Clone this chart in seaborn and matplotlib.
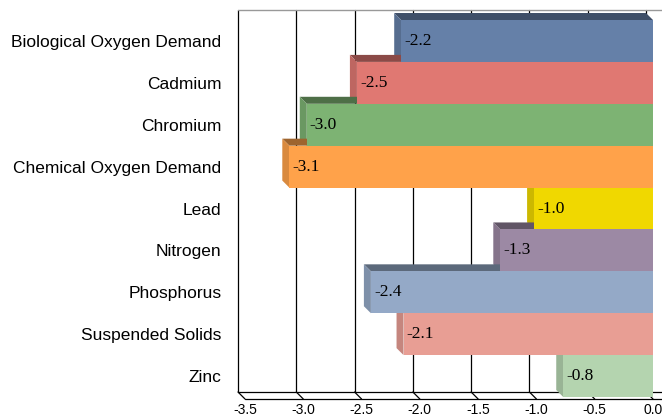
import matplotlib
matplotlib.use('Agg')
import matplotlib.pyplot as plt
import matplotlib.colors as mcolors
from matplotlib.patches import Polygon
import numpy as np
import pandas as pd
import seaborn as sns

sns.set_style('white')

# data
pollutants = ['Biological Oxygen Demand', 'Cadmium', 'Chromium', 'Chemical Oxygen Demand',
              'Lead', 'Nitrogen', 'Phosphorus', 'Suspended Solids', 'Zinc']
values = [-2.16, -2.54, -2.97, -3.12, -1.02, -1.31, -2.42, -2.14, -0.77]
bar_colors = ['#6580A8', '#E07872', '#7DB373', '#FFA24A', '#F0D800',
              '#9C89A4', '#94A9C7', '#E89E94', '#B4D4AF']
xticks = [-3.5, -3.0, -2.5, -2.0, -1.5, -1.0, -0.5, 0.0]

df = pd.DataFrame({'Pollutant': pollutants, 'Value': values})

W, H = 662, 419
fig = plt.figure(figsize=(W / 100, H / 100), dpi=100)
# front plane of the pseudo-3D box (pixels)
left_px, right_px, top_px, bot_px = 245, 653, 17, 399
ax = fig.add_axes([left_px / W, 1 - bot_px / H, (right_px - left_px) / W, (bot_px - top_px) / H])

sns.barplot(data=df, x='Value', y='Pollutant', hue='Pollutant', palette=bar_colors,
            legend=False, width=1.0, saturation=1, ax=ax, orient='h')

ymin, ymax = 8.5 + 0.048, -0.5 - 0.072
ax.set_xlim(-3.5, 0)
ax.set_ylim(ymin, ymax)

# pixel -> data offsets for depth
px_x = (right_px - left_px) / 3.5
px_y = (bot_px - top_px) / (ymin - ymax)
depth = 7
dx = -depth / px_x
dy = -depth / px_y

# depth faces of bars (top + left side)
for p, c in zip(list(ax.patches), bar_colors):
    p.set_zorder(4)
    p.set_edgecolor('none')
    rgb = np.array(mcolors.to_rgb(c))
    x0, x1 = p.get_x() + p.get_width(), p.get_x()
    yt, yb = p.get_y(), p.get_y() + p.get_height()
    top = Polygon([(x0, yt), (x1, yt), (x1 + dx, yt + dy), (x0 + dx, yt + dy)], closed=True,
                  facecolor=rgb * 0.62, edgecolor='none', zorder=3, clip_on=False)
    side = Polygon([(x0, yt), (x0, yb), (x0 + dx, yb + dy), (x0 + dx, yt + dy)], closed=True,
                   facecolor=rgb * 0.85, edgecolor='none', zorder=3, clip_on=False)
    ax.add_patch(top)
    ax.add_patch(side)

# back wall grid
for t in xticks:
    ax.plot([t + dx, t + dx], [ymin + dy, ymax + dy], color='black', lw=0.9, zorder=1, clip_on=False)
ax.plot([-3.5 + dx, 0.2], [ymax + dy, ymax + dy], color='#999999', lw=1.0, zorder=1, clip_on=False)

# floor
ax.plot([-3.5 + dx, 0.2], [ymin + dy, ymin + dy], color='black', lw=0.9, zorder=1, clip_on=False)
ax.plot([-3.5, 0.2], [ymin, ymin], color='black', lw=0.9, zorder=1, clip_on=False)
for t in xticks:
    ax.plot([t + dx, t], [ymin + dy, ymin], color='black', lw=0.9, zorder=1, clip_on=False)

# value labels
for i, v in enumerate(values):
    ax.text(v + 3 / px_x, i, f'{v:.1f}', va='center', ha='left',
            family='Liberation Serif', fontsize=12.5, color='black', zorder=5)

for s in ax.spines.values():
    s.set_visible(False)
ax.set_xticks(xticks)
ax.set_xticklabels([f'{t:.1f}' for t in xticks], family='Liberation Sans', fontsize=10, color='black')
ax.set_yticks(range(len(pollutants)))
ax.set_yticklabels(pollutants, family='Liberation Sans', fontsize=12.5, color='black')
ax.tick_params(axis='y', length=0, pad=17)
ax.tick_params(axis='x', length=0, pad=3)
ax.set_xlabel('')
ax.set_ylabel('')
ax.grid(False)

fig.savefig('out.png', dpi=100)
